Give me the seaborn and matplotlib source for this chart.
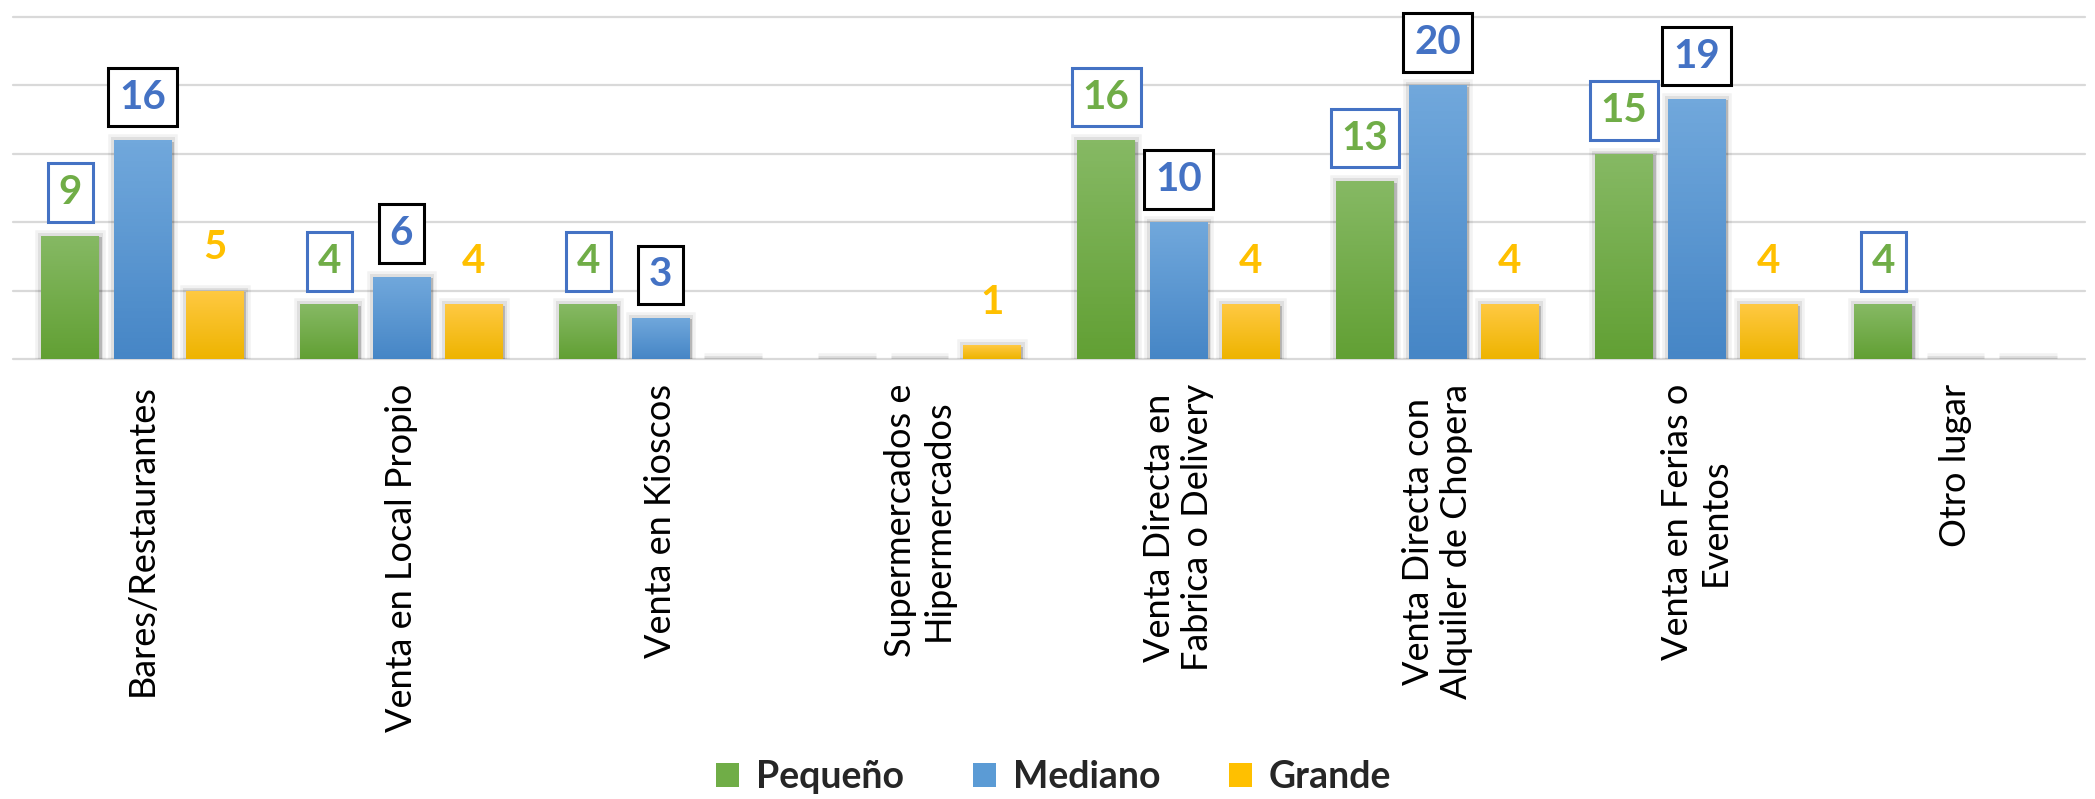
import numpy as np
import pandas as pd
import matplotlib
matplotlib.use("Agg")
import matplotlib.pyplot as plt
import matplotlib.patheffects as pe
from matplotlib.colors import LinearSegmentedColormap
from matplotlib.patches import Patch
import seaborn as sns

# ==========================================================
# Data
# ==========================================================

CATEGORIES = [
    "Bares/Restaurantes",
    "Venta en Local Propio",
    "Venta en Kioscos",
    "Supermercados e\nHipermercados",
    "Venta Directa en\nFabrica o Delivery",
    "Venta Directa con\nAlquiler de Chopera",
    "Venta en Ferias o\nEventos",
    "Otro lugar",
]

SERIES = ["Pequeño", "Mediano", "Grande"]

PEQUENO = [9, 4, 4, 0, 16, 13, 15, 4]
MEDIANO = [16, 6, 3, 0, 10, 20, 19, 0]
GRANDE = [5, 4, 0, 1, 4, 4, 4, 0]

# ==========================================================
# Style
# ==========================================================

MID_COLORS = ["#70AD47", "#5B9BD5", "#FFC000"]
TOP_COLORS = ["#86B964", "#71A8DC", "#FFC942"]
BOTTOM_COLORS = ["#62A034", "#4686C6", "#EEB400"]
LABEL_COLORS = ["#70AD47", "#4472C4", "#FFC000"]
BOX_EDGES = ["#4472C4", "#000000", None]

sns.set_theme(style="white")
plt.rcParams["font.family"] = ["Lato", "DejaVu Sans"]

df = pd.DataFrame({
    "categoria": CATEGORIES * 3,
    "tamano": np.repeat(SERIES, len(CATEGORIES)),
    "valor": PEQUENO + MEDIANO + GRANDE,
})

fig = plt.figure(figsize=(20.95, 7.99), dpi=100)
ax = fig.add_axes([0.0062, 0.5507, 0.989, 0.428])

sns.barplot(
    data=df, x="categoria", y="valor", hue="tamano",
    hue_order=SERIES, palette=MID_COLORS,
    width=0.837, gap=0.2, legend=False, ax=ax,
    errorbar=None,
)

# soft grey shadow round each bar (also shows under the empty bars)
shadow = [
    pe.Stroke(linewidth=9, foreground="#000000", alpha=0.05),
    pe.Stroke(linewidth=5, foreground="#000000", alpha=0.08),
    pe.SimplePatchShadow(offset=(2, -1), shadow_rgbFace="#000000", alpha=0.18),
    pe.Normal(),
]

for i, container in enumerate(ax.containers):
    cmap = LinearSegmentedColormap.from_list(
        f"grad{i}", [BOTTOM_COLORS[i], TOP_COLORS[i]])
    for bar in container:
        bar.set_linewidth(0)
        bar.set_path_effects(shadow)
        h = bar.get_height()
        x0 = bar.get_x()
        w = bar.get_width()
        if h > 0:
            im = ax.imshow(
                np.linspace(0, 1, 64).reshape(-1, 1),
                extent=[x0, x0 + w, 0, h], origin="lower",
                cmap=cmap, aspect="auto", zorder=bar.get_zorder() + 0.1,
            )
            im.set_clip_path(bar)

            box = None
            if BOX_EDGES[i] is not None:
                box = dict(boxstyle="square,pad=0.27", facecolor="white",
                           edgecolor=BOX_EDGES[i], linewidth=2.2)
            ax.annotate(
                f"{int(h)}", (x0 + w / 2, h),
                xytext=(0, 31), textcoords="offset points",
                ha="center", va="center", fontsize=29, fontweight="bold",
                color=LABEL_COLORS[i], bbox=box, zorder=5,
            )

ax.set_xlim(-0.5, len(CATEGORIES) - 0.5)
ax.set_ylim(0, 25)
ax.set_yticks(range(0, 30, 5))
ax.set_yticklabels([])
ax.yaxis.grid(True, color="#d9d9d9", linewidth=1.6)
for line in ax.get_ygridlines():
    line.set_clip_on(False)
ax.set_axisbelow(True)
sns.despine(ax=ax, left=True, bottom=True)

ax.set_xlabel("")
ax.set_ylabel("")
ax.tick_params(axis="x", length=0, pad=18)
ax.tick_params(axis="y", length=0)
for lbl in ax.get_xticklabels():
    lbl.set_rotation(90)
    lbl.set_fontsize(26)
    lbl.set_color("black")
    lbl.set_multialignment("center")

handles = [Patch(facecolor=c, edgecolor="none") for c in MID_COLORS]
fig.legend(
    handles, SERIES, loc="center", bbox_to_anchor=(0.503, 0.027),
    ncol=3, frameon=False, prop={"size": 27, "weight": "bold"},
    handlelength=0.6, handleheight=0.6, handletextpad=0.45,
    columnspacing=1.85,
)

fig.savefig("out.png", dpi=100)
